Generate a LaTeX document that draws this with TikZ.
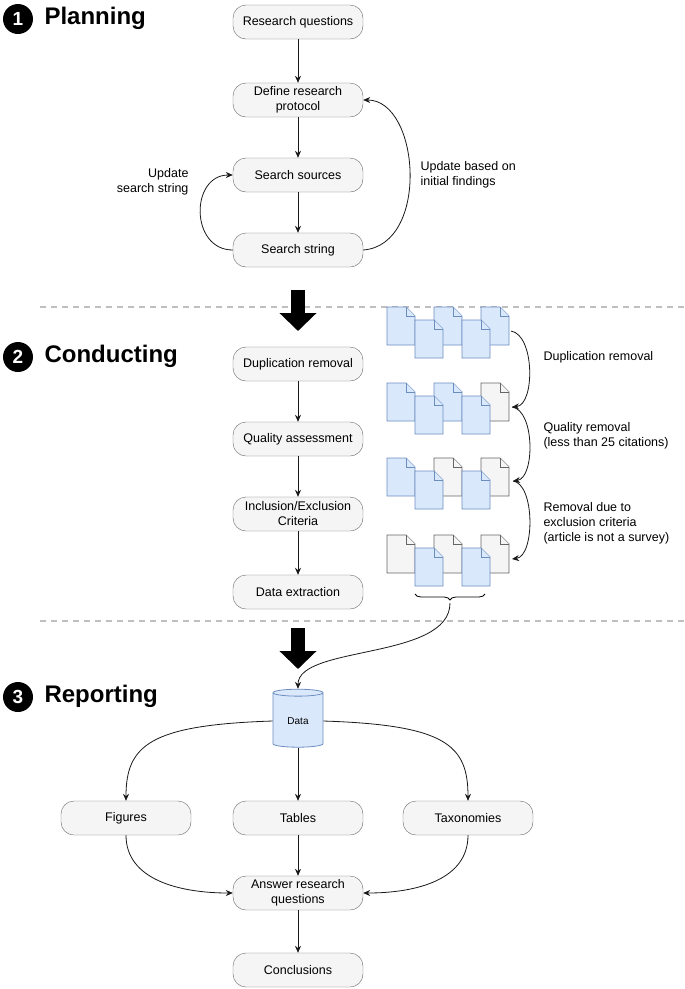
\documentclass[tikz,border=0pt]{standalone}
\usepackage{fontspec}
\setmainfont{Liberation Sans}
\usetikzlibrary{shapes.geometric,arrows.meta,decorations.pathreplacing}
\definecolor{bfill}{HTML}{DAE8FC}
\definecolor{bdraw}{HTML}{6C8EBF}
\definecolor{gfill}{HTML}{F5F5F5}
\definecolor{gdraw}{HTML}{666666}
\begin{document}
\begin{tikzpicture}[x=1pt,y=-1pt,
 box/.style={draw=gdraw,fill=gfill,rounded corners=13pt,minimum width=130pt,minimum height=34pt,align=center,font=\fontsize{12.5}{15}\selectfont},
 arr/.style={-{Stealth[length=7pt,width=6pt]},thick,black!90},
 lab/.style={align=left,font=\fontsize{12.5}{15}\selectfont,anchor=west},
 head/.style={font=\bfseries\fontsize{24}{26}\selectfont,anchor=west},
 num/.style={circle,fill=black,text=white,minimum size=30pt,inner sep=0pt,font=\bfseries\fontsize{19}{19}\selectfont},
 bdoc/.style={draw=bdraw,fill=bfill,line width=0.8pt},
 gdoc/.style={draw=gdraw,fill=gfill,line width=0.8pt},
 big/.style={-{Triangle[length=18pt,width=36pt]},line width=14pt}]
\useasboundingbox (0,0) rectangle (685,989);
% headings
\node[num] (n1) at (18,19) {1}; \node[head] (h1) at (41,18) {Planning};
\node[num] (n2) at (18,357) {2}; \node[head] (h2) at (41,356) {Conducting};
\node[num] (n3) at (18,697) {3}; \node[head] (h3) at (41,696) {Reporting};
% dashed separators
\draw[gray!50,line width=1.2pt,dash pattern=on 6pt off 5pt] (40,307) -- (685,307);
\draw[gray!50,line width=1.2pt,dash pattern=on 6pt off 5pt] (40,621) -- (685,621);
% planning
\node[box] (rq) at (298,22) {Research questions};
\node[box] (dp) at (298,100) {Define research\\protocol};
\node[box] (ss) at (298,175) {Search sources};
\node[box] (st) at (298,250) {Search string};
\draw[arr] (rq) -- (dp); \draw[arr] (dp) -- (ss); \draw[arr] (ss) -- (st);
\draw[arr] (st.west) .. controls (190,250) and (190,175) .. (ss.west);
\draw[arr] (st.east) .. controls (430,245) and (420,100) .. (dp.east);
\node[lab,align=right,anchor=east] (l1) at (192,182) {Update\\search string};
\node[lab] (l2) at (417,175) {Update based on\\initial  findings};
% big arrows
\coordinate (a1) at (298,290); \coordinate (a2) at (298,331);
\draw[big] (a1) -- (a2);
\coordinate (b1) at (298,628); \coordinate (b2) at (298,669);
\draw[big] (b1) -- (b2);
% conducting
\node[box] (dr) at (298,364) {Duplication removal};
\node[box] (qa) at (298,439) {Quality assessment};
\node[box] (ie) at (298,514) {Inclusion/Exclusion\\Criteria};
\node[box] (de) at (298,592) {Data extraction};
\draw[arr] (dr) -- (qa); \draw[arr] (qa) -- (ie); \draw[arr] (ie) -- (de);
% documents
\newcommand{\doc}[3]{\draw[#3] (#1,#2) -- ++(19,0) -- ++(9,9) -- ++(0,29) -- ++(-28,0) -- cycle;
 \draw[#3] (#1+19,#2) -- ++(0,9) -- ++(9,0);}
\newcommand{\docrow}[4]{\doc{387}{#1}{#2}\doc{434}{#1}{#3}\doc{481}{#1}{#4}
 \doc{415}{#1+13}{bdoc}\doc{462}{#1+13}{bdoc}}
\docrow{307}{bdoc}{bdoc}{bdoc}
\docrow{383}{bdoc}{bdoc}{gdoc}
\docrow{458}{bdoc}{gdoc}{gdoc}
\docrow{535}{gdoc}{gdoc}{gdoc}
\coordinate (r1) at (511,331); \coordinate (r2) at (512,407);
\coordinate (r3) at (513,481); \coordinate (r4) at (512,559);
\draw[arr] (r1) .. controls (535,335) and (535,405) .. (r2);
\draw[arr] (r2) .. controls (535,410) and (535,478) .. (r3);
\draw[arr] (r3) .. controls (535,484) and (535,556) .. (r4);
\node[lab] (t1) at (540,357) {Duplication removal};
\node[lab] (t2) at (540,436) {Quality removal\\(less than 25 citations)};
\node[lab] (t3) at (540,523) {Removal due to\\exclusion criteria\\(article is not a survey)};
\coordinate (br1) at (415,594); \coordinate (br2) at (485,594);
\draw[thick,decorate,decoration={brace,mirror,amplitude=6pt}] (br1) -- (br2);
% reporting
\node[cylinder,shape border rotate=90,aspect=0.25,draw=bdraw,fill=bfill,line width=0.8pt,minimum width=50pt,minimum height=58pt,font=\fontsize{10}{12}\selectfont] (data) at (298,721) {Data};
\coordinate (bt) at (450,603);
\draw[arr] (bt) .. controls (450,660) and (298,645) .. (data.north);
\node[box] (fi) at (126,818) {Figures};
\node[box] (ta) at (298,818) {Tables};
\node[box] (tx) at (468,818) {Taxonomies};
\node[box] (ar) at (298,893) {Answer research\\questions};
\node[box] (co) at (298,970) {Conclusions};
\draw[arr] (data.west) .. controls (150,725) and (126,745) .. (fi.north);
\draw[arr] (data.east) .. controls (446,725) and (468,745) .. (tx.north);
\draw[arr] (data) -- (ta);
\draw[arr] (ta) -- (ar); \draw[arr] (ar) -- (co);
\draw[arr] (fi.south) .. controls (126,880) and (180,893) .. (ar.west);
\draw[arr] (tx.south) .. controls (468,880) and (416,893) .. (ar.east);
\end{tikzpicture}
\end{document}
